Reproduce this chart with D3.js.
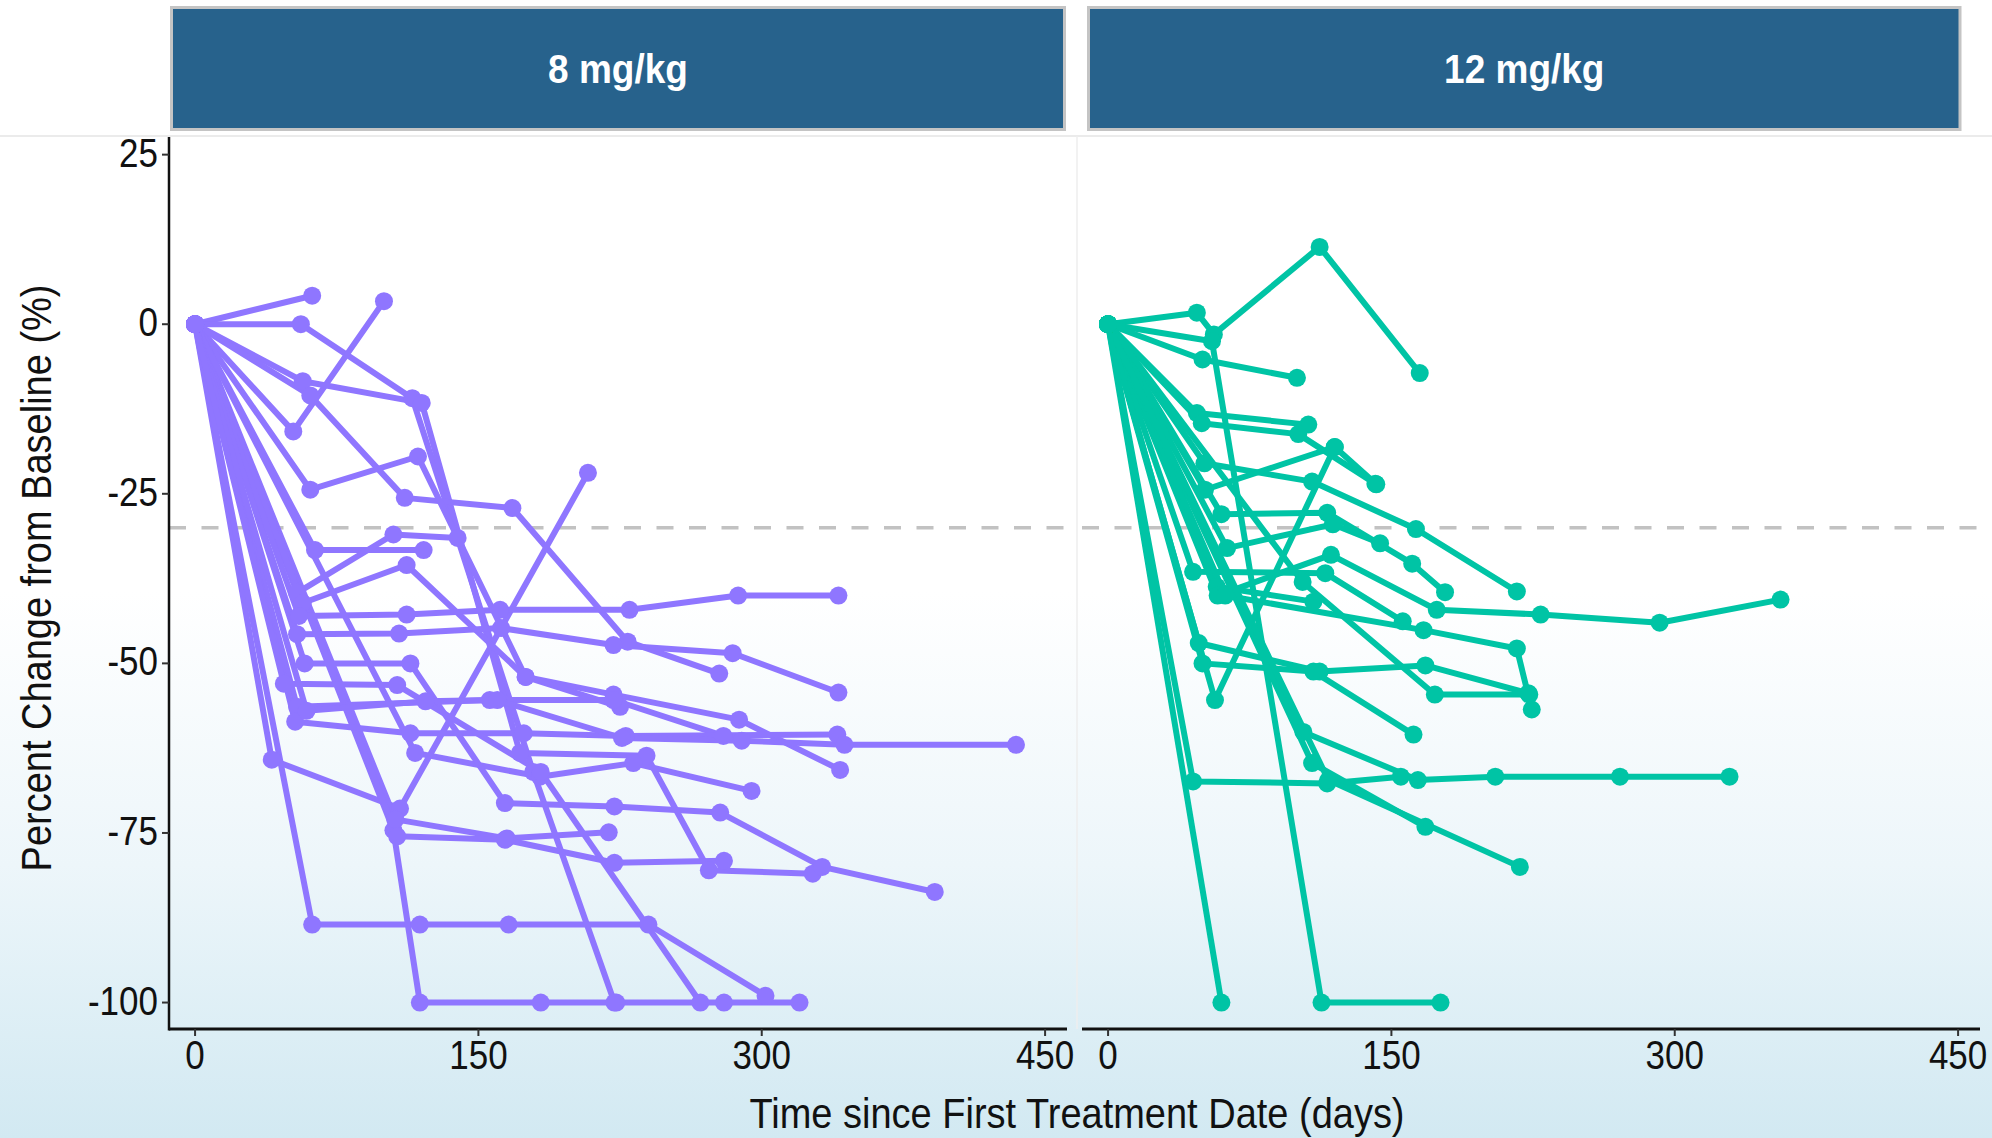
<!DOCTYPE html>
<html><head><meta charset="utf-8">
<script src="https://cdn.jsdelivr.net/npm/d3@7"></script>
<style>
html,body{margin:0;padding:0;width:1992px;height:1138px;overflow:hidden;}
body{background:linear-gradient(to bottom,#ffffff 0%,#ffffff 52%,#edf6fa 76%,#d2e9f2 100%);}
svg{display:block;}
</style></head>
<body>
<svg id="chart" width="1992" height="1138"></svg>
<script>
// ---- data ----
const panels = ["8 mg/kg", "12 mg/kg"];
const xTicks = [0, 150, 300, 450];
const yTicks = [25, 0, -25, -50, -75, -100];
const refLine = -30;

// 8 mg/kg : days since first treatment, per patient
const days8 = [
  [0,62], [0,56,115,179,222], [0,52,100], [0,57,120,172,239,272,327],
  [0,61,111,168,229,277.5], [0,61,118,175,221.5,288,341.5], [0,40.6,108.5,208],
  [0,62,119,166,240,302], [0,105,119,183,223,280,320], [0,106,165,219],
  [0,107,164,222,280], [0,63.5,121], [0,54,105,139], [0,57,112,175,225],
  [0,54,108,162,221.5,284.6,340.6], [0,55,112,161.5,230,287.5,340.6],
  [0,54,156,221.5,279.7], [0,53,114,174,228,340], [0,116.5,182.6,232,294.6],
  [0,58,114,164,222,278,332,391.6], [0,59,122,160,226,289.4,343.8,434.6],
  [0,47,107,183,267.5]
];
// 8 mg/kg : percent change from baseline, per patient
const pct8 = [
  [0,4.2], [0,0,-10.9,-66,-100], [0,-15.8,3.4], [0,-8.4,-11.6,-63.2,-63.6,-80.5,-81],
  [0,-10.5,-25.6,-27.1,-46.8,-51.5], [0,-24.4,-19.5,-52,-54.6,-58.3,-65.7], [0,-64.2,-71.4,-21.9],
  [0,-88.5,-88.5,-88.5,-88.5,-99], [0,-74.6,-100,-100,-100,-100,-100], [0,-73,-75.8,-74.9],
  [0,-75.5,-76,-79.4,-79.1], [0,-33.3,-33.3], [0,-39.6,-31,-31.5], [0,-41.1,-35.5,-52,-56.4],
  [0,-45.7,-45.6,-44.8,-47.3,-48.5,-54.3], [0,-43,-42.8,-42.1,-42.1,-40,-40],
  [0,-56.4,-55.4,-55.4,-60.7], [0,-58.6,-60.3,-60.3,-60.7,-60.5], [0,-63.2,-66.7,-64.7,-68.8],
  [0,-50,-50,-70.6,-71.1,-72,-80,-83.7], [0,-57,-55.6,-55.4,-61,-61.4,-62,-62],
  [0,-53,-53.2,-66,-100]
];
// 12 mg/kg : days since first treatment, per patient
const days12 = [
  [0,47,56,112,165], [0,55,113,176], [0,50,100], [0,47,106], [0,51,108,163,216.4],
  [0,49.6,100.7,141.5], [0,56.6,120], [0,51.3,120,142], [0,60,116,161,178.4],
  [0,63,119,144], [0,57.5,108.7], [0,58,118,174,229,292,356], [0,45,115,156],
  [0,62,167,216.4,224.3], [0,48,112,168,222.5], [0,50,108.7,161.7], [0,103,173,223],
  [0,103.4,164,205,271,329], [0,45,116,155], [0,108,168], [0,116.6,218], [0,60]
];
// 12 mg/kg : percent change from baseline, per patient
const pct12 = [
  [0,1.7,-1.5,11.4,-7.2], [0,-2.5,-100,-100], [0,-5.2,-7.9], [0,-13.1,-14.8], [0,-20.5,-23.2,-30.2,-39.4],
  [0,-14.6,-16.2,-23.5], [0,-55.4,-18.1], [0,-24.4,-18.1,-23.6], [0,-28,-27.8,-35.3,-39.5],
  [0,-33,-29.5,-32.3], [0,-38.7,-40.9], [0,-40,-34,-42.1,-42.8,-44,-40.6], [0,-36.5,-36.7,-43.8],
  [0,-40,-45.1,-47.8,-56.8], [0,-47,-51.2,-50.3,-54.4], [0,-50,-51.2,-60.5], [0,-38,-54.6,-54.6],
  [0,-60.1,-67.2,-66.7,-66.7,-66.7], [0,-67.4,-67.7,-66.7], [0,-64.7,-74.1], [0,-67.2,-80], [0,-100]
];
const colors = ["#8f76ff", "#00c4a5"];

// ---- layout ----
const svg = d3.select("#chart");
const W = 1992;
const panelY = [137, 1029];
const panelX = [[169, 1067], [1082, 1980]];
const stripX = [[171.5, 1064.5], [1088.5, 1960]];
const y = d3.scaleLinear().domain([-103.9, 27.6]).range([panelY[1], panelY[0]]);
const xs = panelX.map(r => d3.scaleLinear().domain([-13.8, 461.6]).range(r));

// faint panel boundaries
svg.append("line").attr("x1",0).attr("x2",W).attr("y1",136).attr("y2",136)
  .attr("stroke","#e4e4e4").attr("stroke-width",1.5);
svg.append("line").attr("x1",1077).attr("x2",1077).attr("y1",136).attr("y2",panelY[1])
  .attr("stroke","#eeeeee").attr("stroke-width",1.5);

// strips
panels.forEach((p,i)=>{
  svg.append("rect").attr("x",stripX[i][0]).attr("y",7.5)
    .attr("width",stripX[i][1]-stripX[i][0]).attr("height",122)
    .attr("fill","#27628c").attr("stroke","#c4c4c4").attr("stroke-width",3);
  svg.append("text").attr("transform",`translate(${(stripX[i][0]+stripX[i][1])/2},83) scale(1,1.12)`)
    .attr("text-anchor","middle").attr("fill","#ffffff")
    .style("font-family","'Liberation Sans', Arial, sans-serif").style("font-weight","bold")
    .style("font-size","37px").text(p);
});

// reference dashed line
panelX.forEach(r=>{
  svg.append("line").attr("x1",r[0]).attr("x2",r[1]).attr("y1",y(refLine)).attr("y2",y(refLine))
    .attr("stroke","#c2c2c2").attr("stroke-width",3.5).attr("stroke-dasharray","17,15.5");
});

// data
const groups = [[days8,pct8],[days12,pct12]];
const line = (x) => d3.line().x(d=>x(d[0])).y(d=>y(d[1]));
groups.forEach(([dd,pp],gi)=>{
  const x = xs[gi];
  const series = dd.map((ds,k)=>ds.map((d,j)=>[d, pp[k][j]]));
  const g = svg.append("g");
  g.selectAll("path").data(series).join("path")
    .attr("d", line(x)).attr("fill","none").attr("stroke",colors[gi])
    .attr("stroke-width",6).attr("stroke-linejoin","round");
  g.selectAll("circle").data(series.flat()).join("circle")
    .attr("cx",d=>x(d[0])).attr("cy",d=>y(d[1])).attr("r",9).attr("fill",colors[gi]);
});

// axes
const font = "'Liberation Sans', Arial, sans-serif";
const yAxis = svg.append("g");
yAxis.append("line").attr("x1",169).attr("x2",169).attr("y1",panelY[0]).attr("y2",panelY[1]+1.5)
  .attr("stroke","#111").attr("stroke-width",2.5);
yTicks.forEach(t=>{
  yAxis.append("line").attr("x1",162).attr("x2",169).attr("y1",y(t)).attr("y2",y(t))
    .attr("stroke","#333").attr("stroke-width",2);
  yAxis.append("text").attr("transform",`translate(158,${y(t)+12}) scale(1,1.15)`)
    .attr("text-anchor","end").attr("fill","#111").style("font-family",font).style("font-size","35px")
    .text(t);
});
xs.forEach((x,i)=>{
  const g = svg.append("g");
  g.append("line").attr("x1",panelX[i][0]).attr("x2",panelX[i][1]).attr("y1",panelY[1]).attr("y2",panelY[1])
    .attr("stroke","#111").attr("stroke-width",3);
  xTicks.forEach(t=>{
    g.append("line").attr("x1",x(t)).attr("x2",x(t)).attr("y1",panelY[1]).attr("y2",panelY[1]+7)
      .attr("stroke","#333").attr("stroke-width",2);
    g.append("text").attr("transform",`translate(${x(t)},1069) scale(1,1.15)`)
      .attr("text-anchor","middle").attr("fill","#111").style("font-family",font).style("font-size","35px")
      .text(t);
  });
});
svg.append("text").attr("transform","translate(1077,1128) scale(1,1.12)")
  .attr("text-anchor","middle").attr("fill","#111").style("font-family",font).style("font-size","38px")
  .text("Time since First Treatment Date (days)");
svg.append("text").attr("transform","translate(51,578) rotate(-90) scale(1,1.12)")
  .attr("text-anchor","middle").attr("fill","#111").style("font-family",font).style("font-size","38px")
  .text("Percent Change from Baseline (%)");
</script>
</body></html>
